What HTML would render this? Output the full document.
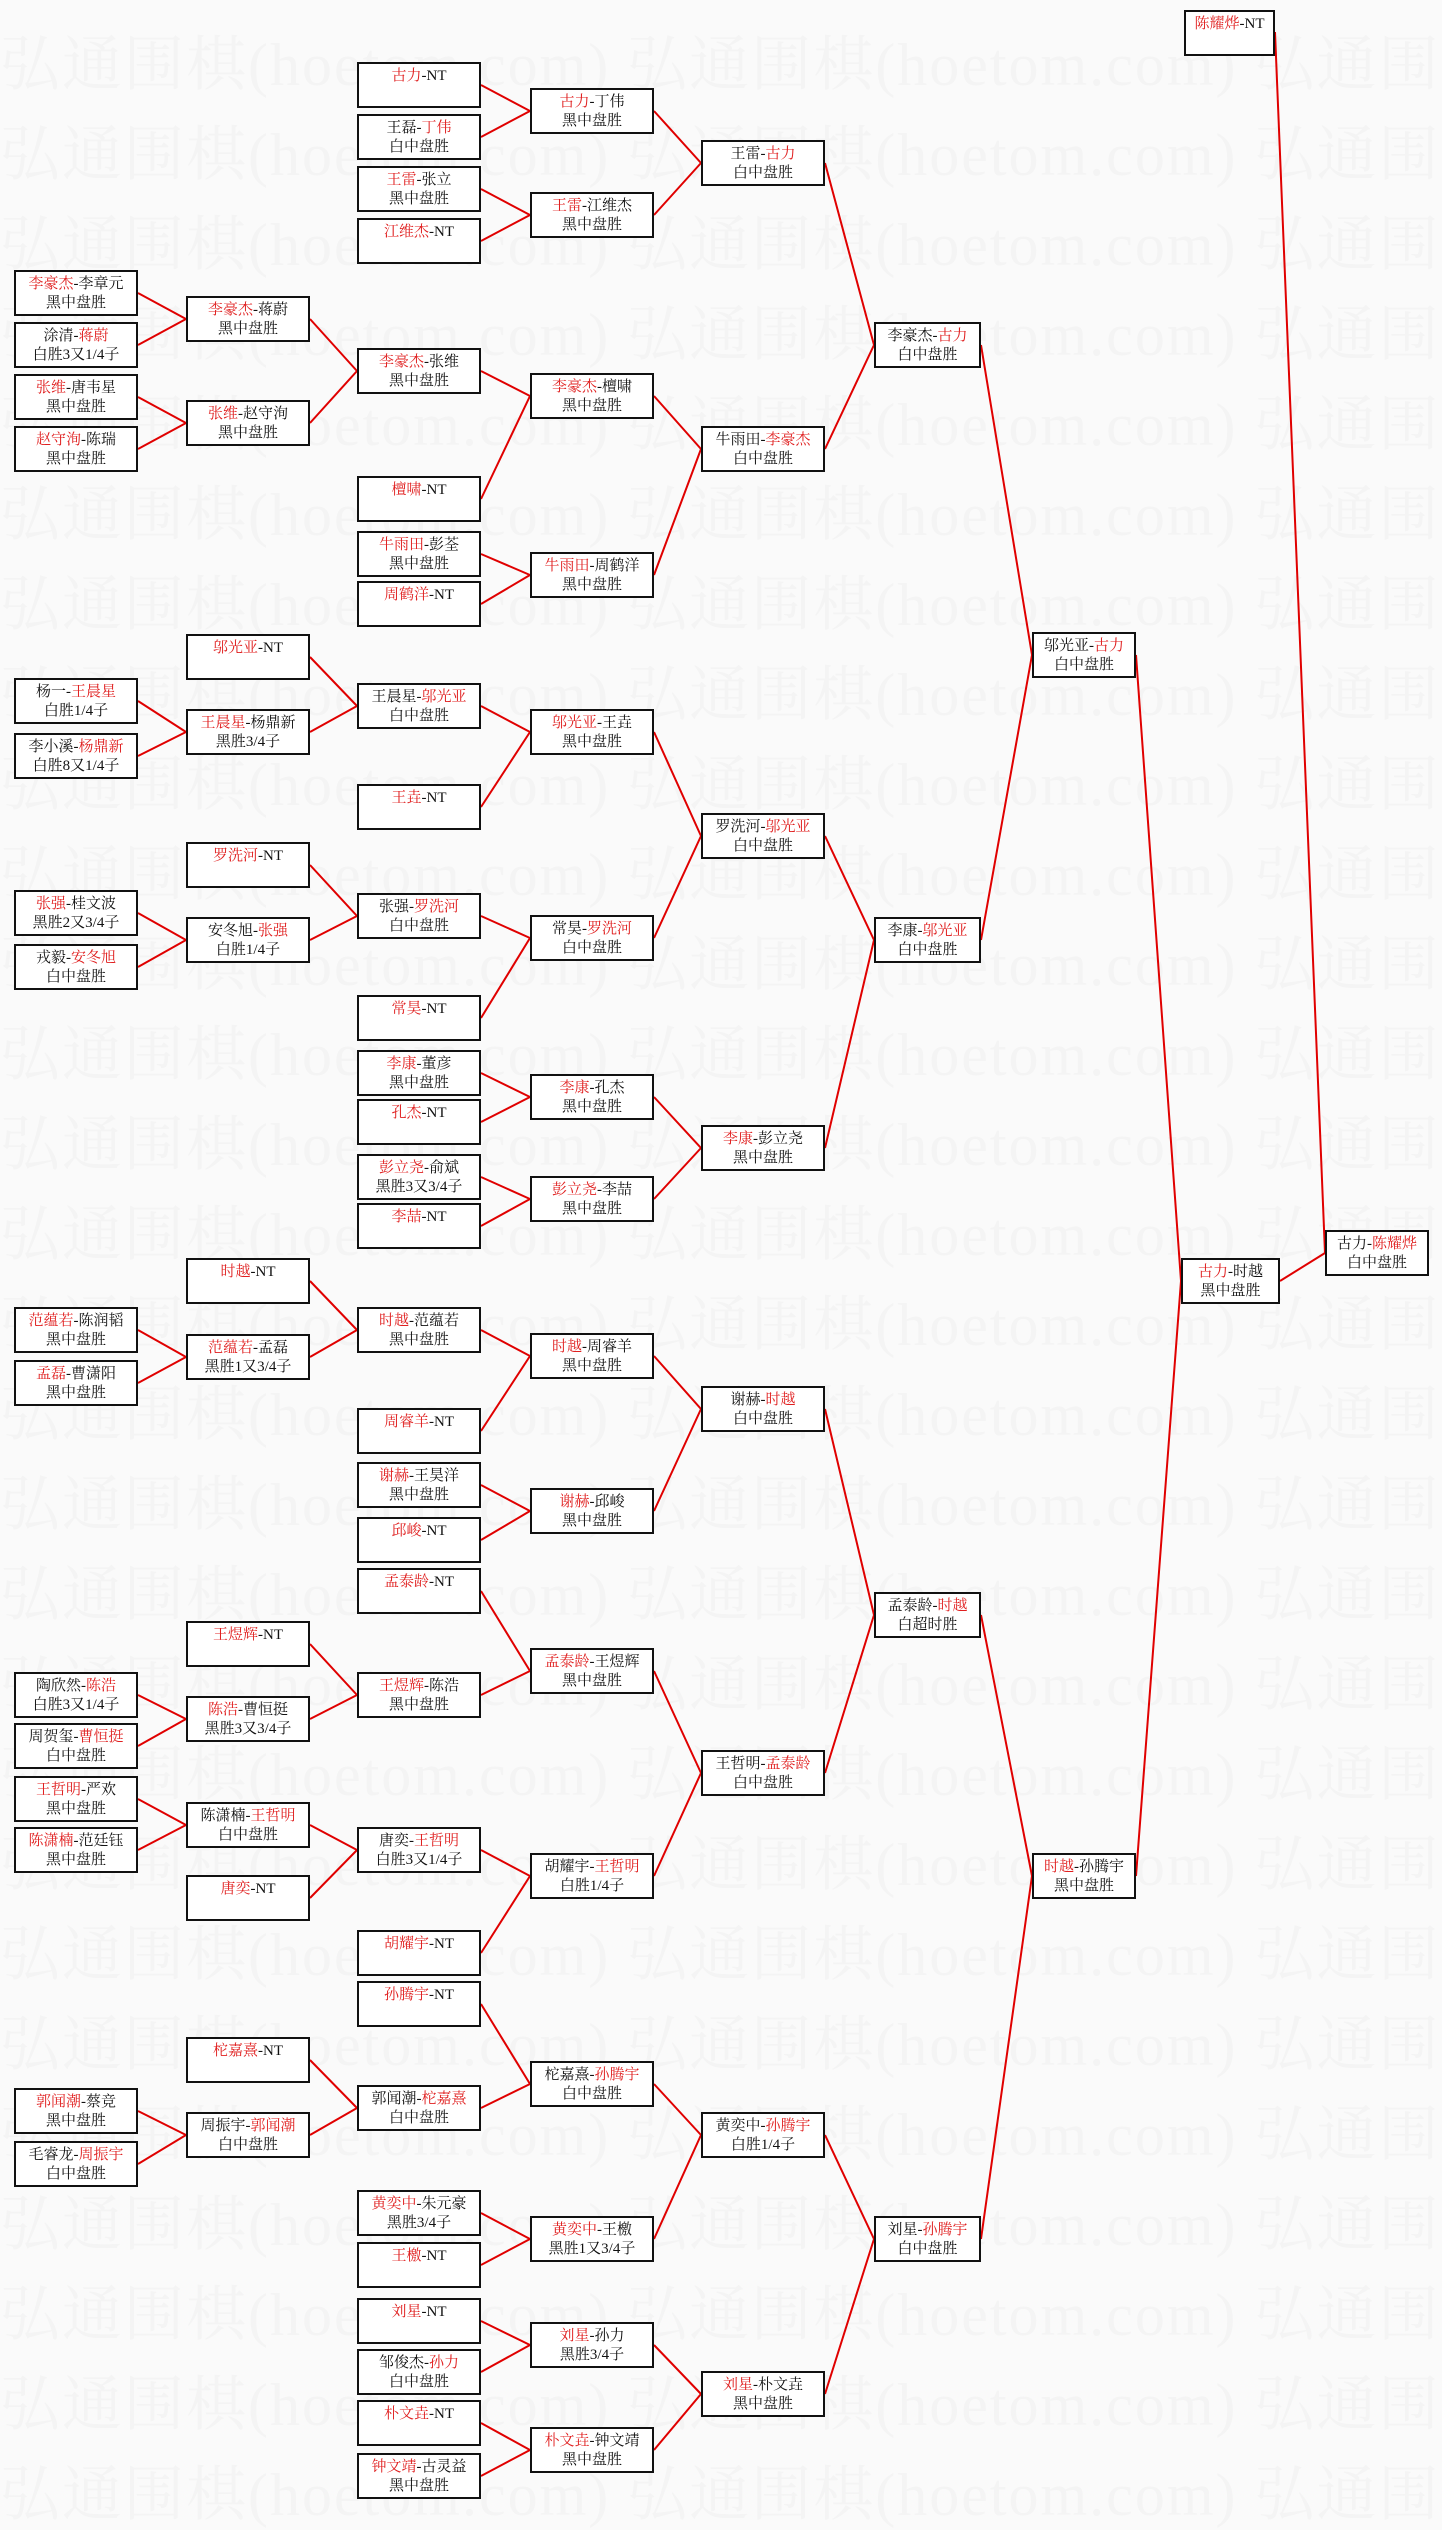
<!DOCTYPE html>
<html><head><meta charset="utf-8">
<style>
html,body{margin:0;padding:0;}
body{width:1442px;height:2509px;position:relative;background:#fafafa;overflow:hidden;font-family:"Liberation Serif","Noto Serif CJK SC","Noto Sans CJK SC",serif;}
.wm{position:absolute;left:0;white-space:nowrap;font-size:60px;color:#f4f4f4;letter-spacing:2px;line-height:70px;}
.b{position:absolute;height:46px;box-sizing:border-box;border:2px solid #111;background:#fff;text-align:center;font-size:15px;line-height:19px;padding-top:3px;color:#111;white-space:nowrap;}
.b r{color:#e02020;}
.A{left:14px;width:124px}.B{left:186px;width:124px}.C{left:357px;width:124px}.D{left:530px;width:124px}.E{left:701px;width:124px}
.F{left:874px;width:107px}.G{left:1032px;width:104px}.H{left:1181px;width:99px}.I{left:1325px;width:104px}
svg{position:absolute;left:0;top:0;}
</style></head><body>
<div class="wm" style="top:30px">弘通围棋(hoetom.com) 弘通围棋(hoetom.com) 弘通围棋(hoetom.com)</div>
<div class="wm" style="top:120px">弘通围棋(hoetom.com) 弘通围棋(hoetom.com) 弘通围棋(hoetom.com)</div>
<div class="wm" style="top:210px">弘通围棋(hoetom.com) 弘通围棋(hoetom.com) 弘通围棋(hoetom.com)</div>
<div class="wm" style="top:300px">弘通围棋(hoetom.com) 弘通围棋(hoetom.com) 弘通围棋(hoetom.com)</div>
<div class="wm" style="top:390px">弘通围棋(hoetom.com) 弘通围棋(hoetom.com) 弘通围棋(hoetom.com)</div>
<div class="wm" style="top:480px">弘通围棋(hoetom.com) 弘通围棋(hoetom.com) 弘通围棋(hoetom.com)</div>
<div class="wm" style="top:570px">弘通围棋(hoetom.com) 弘通围棋(hoetom.com) 弘通围棋(hoetom.com)</div>
<div class="wm" style="top:660px">弘通围棋(hoetom.com) 弘通围棋(hoetom.com) 弘通围棋(hoetom.com)</div>
<div class="wm" style="top:750px">弘通围棋(hoetom.com) 弘通围棋(hoetom.com) 弘通围棋(hoetom.com)</div>
<div class="wm" style="top:840px">弘通围棋(hoetom.com) 弘通围棋(hoetom.com) 弘通围棋(hoetom.com)</div>
<div class="wm" style="top:930px">弘通围棋(hoetom.com) 弘通围棋(hoetom.com) 弘通围棋(hoetom.com)</div>
<div class="wm" style="top:1020px">弘通围棋(hoetom.com) 弘通围棋(hoetom.com) 弘通围棋(hoetom.com)</div>
<div class="wm" style="top:1110px">弘通围棋(hoetom.com) 弘通围棋(hoetom.com) 弘通围棋(hoetom.com)</div>
<div class="wm" style="top:1200px">弘通围棋(hoetom.com) 弘通围棋(hoetom.com) 弘通围棋(hoetom.com)</div>
<div class="wm" style="top:1290px">弘通围棋(hoetom.com) 弘通围棋(hoetom.com) 弘通围棋(hoetom.com)</div>
<div class="wm" style="top:1380px">弘通围棋(hoetom.com) 弘通围棋(hoetom.com) 弘通围棋(hoetom.com)</div>
<div class="wm" style="top:1470px">弘通围棋(hoetom.com) 弘通围棋(hoetom.com) 弘通围棋(hoetom.com)</div>
<div class="wm" style="top:1560px">弘通围棋(hoetom.com) 弘通围棋(hoetom.com) 弘通围棋(hoetom.com)</div>
<div class="wm" style="top:1650px">弘通围棋(hoetom.com) 弘通围棋(hoetom.com) 弘通围棋(hoetom.com)</div>
<div class="wm" style="top:1740px">弘通围棋(hoetom.com) 弘通围棋(hoetom.com) 弘通围棋(hoetom.com)</div>
<div class="wm" style="top:1830px">弘通围棋(hoetom.com) 弘通围棋(hoetom.com) 弘通围棋(hoetom.com)</div>
<div class="wm" style="top:1920px">弘通围棋(hoetom.com) 弘通围棋(hoetom.com) 弘通围棋(hoetom.com)</div>
<div class="wm" style="top:2010px">弘通围棋(hoetom.com) 弘通围棋(hoetom.com) 弘通围棋(hoetom.com)</div>
<div class="wm" style="top:2100px">弘通围棋(hoetom.com) 弘通围棋(hoetom.com) 弘通围棋(hoetom.com)</div>
<div class="wm" style="top:2190px">弘通围棋(hoetom.com) 弘通围棋(hoetom.com) 弘通围棋(hoetom.com)</div>
<div class="wm" style="top:2280px">弘通围棋(hoetom.com) 弘通围棋(hoetom.com) 弘通围棋(hoetom.com)</div>
<div class="wm" style="top:2370px">弘通围棋(hoetom.com) 弘通围棋(hoetom.com) 弘通围棋(hoetom.com)</div>
<div class="wm" style="top:2460px">弘通围棋(hoetom.com) 弘通围棋(hoetom.com) 弘通围棋(hoetom.com)</div>

<svg width="1442" height="2509" stroke="#e00000" stroke-width="2" fill="none">
<path d="M138 293L186 319M138 345L186 319M138 397L186 423M138 449L186 423M138 701L186 732M138 756L186 732M138 913L186 940M138 967L186 940M138 1330L186 1357M138 1383L186 1357M138 1695L186 1719M138 1746L186 1719M138 1799L186 1825M138 1850L186 1825M138 2111L186 2135M138 2164L186 2135"/>
<path d="M310 319L357 371M310 423L357 371M310 657L357 706M310 732L357 706M310 865L357 916M310 940L357 916M310 1281L357 1330M310 1357L357 1330M310 1644L357 1695M310 1719L357 1695M310 1825L357 1850M310 1898L357 1850M310 2060L357 2108M310 2135L357 2108"/>
<path d="M481 85L530 111M481 137L530 111M481 189L530 215M481 241L530 215M481 371L530 396M481 499L530 396M481 554L530 575M481 604L530 575M481 706L530 732M481 807L530 732M481 916L530 938M481 1018L530 938M481 1073L530 1097M481 1122L530 1097M481 1177L530 1199M481 1226L530 1199M481 1330L530 1356M481 1431L530 1356M481 1485L530 1511M481 1540L530 1511M481 1591L530 1671M481 1695L530 1671M481 1850L530 1876M481 1953L530 1876M481 2004L530 2084M481 2108L530 2084M481 2213L530 2239M481 2265L530 2239M481 2321L530 2345M481 2372L530 2345M481 2423L530 2450M481 2476L530 2450"/>
<path d="M654 111L701 163M654 215L701 163M654 396L701 449M654 575L701 449M654 732L701 836M654 938L701 836M654 1097L701 1148M654 1199L701 1148M654 1356L701 1409M654 1511L701 1409M654 1671L701 1773M654 1876L701 1773M654 2084L701 2135M654 2239L701 2135M654 2345L701 2394M654 2450L701 2394"/>
<path d="M825 163L874 345M825 449L874 345M825 836L874 940M825 1148L874 940M825 1409L874 1615M825 1773L874 1615M825 2135L874 2239M825 2394L874 2239"/>
<path d="M981 345L1032 655M981 940L1032 655M981 1615L1032 1876M981 2239L1032 1876"/>
<path d="M1136 655L1181 1281M1136 1876L1181 1281"/>
<path d="M1280 1281L1325 1253M1275 32L1325 1253"/>
</svg>

<div class="b" style="left:1184px;width:91px;top:10px"><r>陈耀烨</r>-NT</div>

<div class="b A" style="top:270px"><r>李豪杰</r>-李章元<br>黑中盘胜</div>
<div class="b A" style="top:322px">涂清-<r>蒋蔚</r><br>白胜3又1/4子</div>
<div class="b A" style="top:374px"><r>张维</r>-唐韦星<br>黑中盘胜</div>
<div class="b A" style="top:426px"><r>赵守洵</r>-陈瑞<br>黑中盘胜</div>
<div class="b A" style="top:678px">杨一-<r>王晨星</r><br>白胜1/4子</div>
<div class="b A" style="top:733px">李小溪-<r>杨鼎新</r><br>白胜8又1/4子</div>
<div class="b A" style="top:890px"><r>张强</r>-桂文波<br>黑胜2又3/4子</div>
<div class="b A" style="top:944px">戎毅-<r>安冬旭</r><br>白中盘胜</div>
<div class="b A" style="top:1307px"><r>范蕴若</r>-陈润韬<br>黑中盘胜</div>
<div class="b A" style="top:1360px"><r>孟磊</r>-曹潇阳<br>黑中盘胜</div>
<div class="b A" style="top:1672px">陶欣然-<r>陈浩</r><br>白胜3又1/4子</div>
<div class="b A" style="top:1723px">周贺玺-<r>曹恒挺</r><br>白中盘胜</div>
<div class="b A" style="top:1776px"><r>王哲明</r>-严欢<br>黑中盘胜</div>
<div class="b A" style="top:1827px"><r>陈潇楠</r>-范廷钰<br>黑中盘胜</div>
<div class="b A" style="top:2088px"><r>郭闻潮</r>-蔡竞<br>黑中盘胜</div>
<div class="b A" style="top:2141px">毛睿龙-<r>周振宇</r><br>白中盘胜</div>

<div class="b B" style="top:296px"><r>李豪杰</r>-蒋蔚<br>黑中盘胜</div>
<div class="b B" style="top:400px"><r>张维</r>-赵守洵<br>黑中盘胜</div>
<div class="b B" style="top:634px"><r>邬光亚</r>-NT</div>
<div class="b B" style="top:709px"><r>王晨星</r>-杨鼎新<br>黑胜3/4子</div>
<div class="b B" style="top:842px"><r>罗洗河</r>-NT</div>
<div class="b B" style="top:917px">安冬旭-<r>张强</r><br>白胜1/4子</div>
<div class="b B" style="top:1258px"><r>时越</r>-NT</div>
<div class="b B" style="top:1334px"><r>范蕴若</r>-孟磊<br>黑胜1又3/4子</div>
<div class="b B" style="top:1621px"><r>王煜辉</r>-NT</div>
<div class="b B" style="top:1696px"><r>陈浩</r>-曹恒挺<br>黑胜3又3/4子</div>
<div class="b B" style="top:1802px">陈潇楠-<r>王哲明</r><br>白中盘胜</div>
<div class="b B" style="top:1875px"><r>唐奕</r>-NT</div>
<div class="b B" style="top:2037px"><r>柁嘉熹</r>-NT</div>
<div class="b B" style="top:2112px">周振宇-<r>郭闻潮</r><br>白中盘胜</div>

<div class="b C" style="top:62px"><r>古力</r>-NT</div>
<div class="b C" style="top:114px">王磊-<r>丁伟</r><br>白中盘胜</div>
<div class="b C" style="top:166px"><r>王雷</r>-张立<br>黑中盘胜</div>
<div class="b C" style="top:218px"><r>江维杰</r>-NT</div>
<div class="b C" style="top:348px"><r>李豪杰</r>-张维<br>黑中盘胜</div>
<div class="b C" style="top:476px"><r>檀啸</r>-NT</div>
<div class="b C" style="top:531px"><r>牛雨田</r>-彭荃<br>黑中盘胜</div>
<div class="b C" style="top:581px"><r>周鹤洋</r>-NT</div>
<div class="b C" style="top:683px">王晨星-<r>邬光亚</r><br>白中盘胜</div>
<div class="b C" style="top:784px"><r>王垚</r>-NT</div>
<div class="b C" style="top:893px">张强-<r>罗洗河</r><br>白中盘胜</div>
<div class="b C" style="top:995px"><r>常昊</r>-NT</div>
<div class="b C" style="top:1050px"><r>李康</r>-董彦<br>黑中盘胜</div>
<div class="b C" style="top:1099px"><r>孔杰</r>-NT</div>
<div class="b C" style="top:1154px"><r>彭立尧</r>-俞斌<br>黑胜3又3/4子</div>
<div class="b C" style="top:1203px"><r>李喆</r>-NT</div>
<div class="b C" style="top:1307px"><r>时越</r>-范蕴若<br>黑中盘胜</div>
<div class="b C" style="top:1408px"><r>周睿羊</r>-NT</div>
<div class="b C" style="top:1462px"><r>谢赫</r>-王昊洋<br>黑中盘胜</div>
<div class="b C" style="top:1517px"><r>邱峻</r>-NT</div>
<div class="b C" style="top:1568px"><r>孟泰龄</r>-NT</div>
<div class="b C" style="top:1672px"><r>王煜辉</r>-陈浩<br>黑中盘胜</div>
<div class="b C" style="top:1827px">唐奕-<r>王哲明</r><br>白胜3又1/4子</div>
<div class="b C" style="top:1930px"><r>胡耀宇</r>-NT</div>
<div class="b C" style="top:1981px"><r>孙腾宇</r>-NT</div>
<div class="b C" style="top:2085px">郭闻潮-<r>柁嘉熹</r><br>白中盘胜</div>
<div class="b C" style="top:2190px"><r>黄奕中</r>-朱元豪<br>黑胜3/4子</div>
<div class="b C" style="top:2242px"><r>王檄</r>-NT</div>
<div class="b C" style="top:2298px"><r>刘星</r>-NT</div>
<div class="b C" style="top:2349px">邹俊杰-<r>孙力</r><br>白中盘胜</div>
<div class="b C" style="top:2400px"><r>朴文垚</r>-NT</div>
<div class="b C" style="top:2453px"><r>钟文靖</r>-古灵益<br>黑中盘胜</div>

<div class="b D" style="top:88px"><r>古力</r>-丁伟<br>黑中盘胜</div>
<div class="b D" style="top:192px"><r>王雷</r>-江维杰<br>黑中盘胜</div>
<div class="b D" style="top:373px"><r>李豪杰</r>-檀啸<br>黑中盘胜</div>
<div class="b D" style="top:552px"><r>牛雨田</r>-周鹤洋<br>黑中盘胜</div>
<div class="b D" style="top:709px"><r>邬光亚</r>-王垚<br>黑中盘胜</div>
<div class="b D" style="top:915px">常昊-<r>罗洗河</r><br>白中盘胜</div>
<div class="b D" style="top:1074px"><r>李康</r>-孔杰<br>黑中盘胜</div>
<div class="b D" style="top:1176px"><r>彭立尧</r>-李喆<br>黑中盘胜</div>
<div class="b D" style="top:1333px"><r>时越</r>-周睿羊<br>黑中盘胜</div>
<div class="b D" style="top:1488px"><r>谢赫</r>-邱峻<br>黑中盘胜</div>
<div class="b D" style="top:1648px"><r>孟泰龄</r>-王煜辉<br>黑中盘胜</div>
<div class="b D" style="top:1853px">胡耀宇-<r>王哲明</r><br>白胜1/4子</div>
<div class="b D" style="top:2061px">柁嘉熹-<r>孙腾宇</r><br>白中盘胜</div>
<div class="b D" style="top:2216px"><r>黄奕中</r>-王檄<br>黑胜1又3/4子</div>
<div class="b D" style="top:2322px"><r>刘星</r>-孙力<br>黑胜3/4子</div>
<div class="b D" style="top:2427px"><r>朴文垚</r>-钟文靖<br>黑中盘胜</div>

<div class="b E" style="top:140px">王雷-<r>古力</r><br>白中盘胜</div>
<div class="b E" style="top:426px">牛雨田-<r>李豪杰</r><br>白中盘胜</div>
<div class="b E" style="top:813px">罗洗河-<r>邬光亚</r><br>白中盘胜</div>
<div class="b E" style="top:1125px"><r>李康</r>-彭立尧<br>黑中盘胜</div>
<div class="b E" style="top:1386px">谢赫-<r>时越</r><br>白中盘胜</div>
<div class="b E" style="top:1750px">王哲明-<r>孟泰龄</r><br>白中盘胜</div>
<div class="b E" style="top:2112px">黄奕中-<r>孙腾宇</r><br>白胜1/4子</div>
<div class="b E" style="top:2371px"><r>刘星</r>-朴文垚<br>黑中盘胜</div>

<div class="b F" style="top:322px">李豪杰-<r>古力</r><br>白中盘胜</div>
<div class="b F" style="top:917px">李康-<r>邬光亚</r><br>白中盘胜</div>
<div class="b F" style="top:1592px">孟泰龄-<r>时越</r><br>白超时胜</div>
<div class="b F" style="top:2216px">刘星-<r>孙腾宇</r><br>白中盘胜</div>

<div class="b G" style="top:632px">邬光亚-<r>古力</r><br>白中盘胜</div>
<div class="b G" style="top:1853px"><r>时越</r>-孙腾宇<br>黑中盘胜</div>

<div class="b H" style="top:1258px"><r>古力</r>-时越<br>黑中盘胜</div>
<div class="b I" style="top:1230px">古力-<r>陈耀烨</r><br>白中盘胜</div>
</body></html>
